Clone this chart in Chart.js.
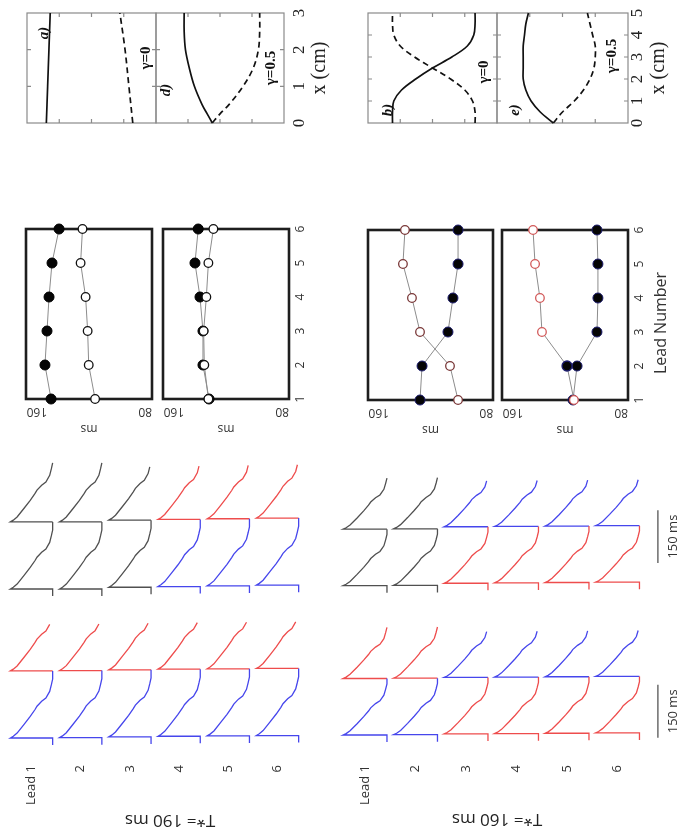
<!DOCTYPE html>
<html lang="en">
<head>
<meta charset="utf-8">
<title>APD alternans along the cable</title>
<script src="https://cdn.jsdelivr.net/npm/chart.js@4.4.1/dist/chart.umd.min.js"></script>
<style>
  html, body { margin: 0; padding: 0; background: #fff; }
  #fig { position: relative; width: 689px; height: 832px; overflow: hidden; background: #fff; }
  #fig canvas { position: absolute; }
</style>
</head>
<body>
<div id="fig"></div>
<script>
// ---------------- data ----------------
const leadNumbers = [1, 2, 3, 4, 5, 6];
const leadLabels = ['Lead 1', '2', '3', '4', '5', '6'];
const msTicks = [160, 80];
const cmTicks3 = [0, 1, 2, 3];
const cmTicks5 = [0, 1, 2, 3, 4, 5];

// APD (ms) per lead for the two alternating beats (A = filled, B = open)
const apd190g0A  = [149.5, 154, 152.5, 151, 148.8, 143.6];
const apd190g0B  = [117, 121.7, 122.5, 124, 127.7, 126.3];
const apd190g05A = [134, 138.5, 138.5, 140.7, 144.4, 142];
const apd190g05B = [134.5, 137.5, 138, 136, 134.5, 130.8];
const apd160g0A  = [129.3, 127.8, 108.5, 104.8, 101, 101];
const apd160g0B  = [101, 107, 129.3, 135.3, 142, 140.5];
const apd160g05A = [115.6, 112.6, 97.9, 97.2, 97.2, 97.9];
const apd160g05B = [114.9, 120, 138.5, 140, 143.6, 145.1];

// profiles along the cable (relative amplitude vs x in cm)
const xcmA = [0, 1, 2, 3];
const aSolid  = [0.15, 0.16, 0.17, 0.18];
const aDashed = [0.82, 0.79, 0.76, 0.72];
const xcmD = [0, 0.25, 0.5, 1, 1.5, 2, 2.5, 3];
const dSolid  = [0.44, 0.40, 0.36, 0.30, 0.26, 0.23, 0.22, 0.22];
const dDashed = [0.44, 0.50, 0.57, 0.68, 0.76, 0.80, 0.81, 0.81];
const xcmB = [0, 0.5, 1, 1.5, 2, 2.5, 3, 3.5, 4, 4.5, 5];
const bSolid  = [0.19, 0.19, 0.20, 0.26, 0.37, 0.50, 0.65, 0.77, 0.82, 0.83, 0.83];
const bDashed = [0.83, 0.83, 0.81, 0.75, 0.64, 0.50, 0.36, 0.25, 0.20, 0.19, 0.19];
const xcmE = [0, 0.5, 1, 1.5, 2, 2.5, 3, 3.5, 4, 4.5, 5];
const eSolid  = [0.43, 0.33, 0.26, 0.22, 0.20, 0.20, 0.20, 0.20, 0.21, 0.22, 0.24];
const eDashed = [0.43, 0.50, 0.59, 0.66, 0.71, 0.74, 0.75, 0.75, 0.73, 0.71, 0.69];

// action potential shape after the upstroke (time in ms, normalised voltage)
const apTime190 = [0, 5, 14, 38, 61, 80, 90, 104, 113, 132, 151, 167];
const apVolt190 = [1, 0.93, 0.84, 0.68, 0.53, 0.42, 0.37, 0.26, 0.16, 0.07, 0.03, 0];
const apTime160 = [0, 4, 12, 32, 52, 68, 77, 89, 97, 113, 130, 145];
const apVolt160 = [1, 0.93, 0.84, 0.68, 0.53, 0.42, 0.37, 0.26, 0.16, 0.07, 0.03, 0];

// pacing periods, activation delay per lead (ms), beat phase per lead (0 none, 1 / 2 alternating)
const period190 = 190, period160 = 160;
const restBefore = 20;
const delay190Up  = [0, 0, 5, 7, 9, 11];
const delay190Low = [0, 1, 3, 5, 6, 7];
const delay160Up  = [0, 1, 7, 8, 9, 10];
const delay160Low = [0, 1, 3, 4, 5, 6];
const phase190Up  = [[0, 0], [0, 0], [0, 0], [1, 2], [1, 2], [1, 2]];
const phase190Low = [[1, 2], [1, 2], [1, 2], [1, 2], [1, 2], [1, 2]];
const phase160Up  = [[0, 0], [0, 0], [2, 1], [2, 1], [2, 1], [2, 1]];
const phase160Low = [[1, 2], [1, 2], [2, 1], [2, 1], [2, 1], [2, 1]];
const windowEnd190Up = 357, windowEnd190Low = 340;
const windowEnd160Up = 309, windowEnd160Low = 307;
const scaleBarMs = 150;
const scaleBarStart160Up = 64, scaleBarStart160Low = -8;

// ---------------- drawing helpers ----------------
const SANS = '"Open Sans", "Liberation Sans", sans-serif';
const SERIF = '"Liberation Serif", "DejaVu Serif", serif';
const UP = -Math.PI / 2, FLIP = Math.PI;
const PX_PER_MS = 0.353;
const phaseColor = ['#505050', '#4646ec', '#ee4c4c'];

function label(ch, text, x, y, rot, font, color, align) {
  const ctx = ch.ctx;
  ctx.save();
  ctx.translate(x, y);
  ctx.rotate(rot);
  ctx.font = font;
  ctx.fillStyle = color || '#222';
  ctx.textAlign = align || 'center';
  ctx.textBaseline = 'middle';
  ctx.fillText(text, 0, 0);
  ctx.restore();
}

function makeChart(box, pad, datasets, scales, hooks) {
  const fig = document.getElementById('fig');
  const cv = document.createElement('canvas');
  const W = box.w + pad.l + pad.r, H = box.h + pad.t + pad.b;
  cv.width = W; cv.height = H;
  cv.style.left = (box.x - pad.l) + 'px';
  cv.style.top = (box.y - pad.t) + 'px';
  cv.style.width = W + 'px';
  cv.style.height = H + 'px';
  fig.appendChild(cv);
  const ox = box.x - pad.l, oy = box.y - pad.t;
  const decor = {
    id: 'panelDecor',
    beforeDatasetsDraw(ch) { if (hooks.before) hooks.before(ch, ox, oy); },
    afterDraw(ch) { if (hooks.after) hooks.after(ch, ox, oy); }
  };
  return new Chart(cv, {
    type: 'scatter',
    data: { datasets },
    options: {
      responsive: false, animation: false, devicePixelRatio: 1, events: [],
      layout: { padding: { left: pad.l, right: pad.r, top: pad.t, bottom: pad.b } },
      plugins: { legend: { display: false }, tooltip: { enabled: false } },
      scales
    },
    plugins: [decor]
  });
}

// ---------------- profile panels a, d, b, e ----------------
function profilePanel(box, pad, cm, solid, dashed, cmMax, after) {
  const line = (vals, dash) => ({
    data: cm.map((c, i) => ({ x: vals[i], y: c })),
    showLine: true, borderColor: '#111', borderWidth: 1.7, borderDash: dash,
    pointRadius: 0, tension: 0.35, clip: false
  });
  return makeChart(box, pad, [line(solid, []), line(dashed, [6, 4])], {
    x: { type: 'linear', display: false, min: 0, max: 1 },
    y: { type: 'linear', display: false, min: 0, max: cmMax }
  }, {
    before(ch) {
      const a = ch.chartArea, ctx = ch.ctx;
      ctx.save();
      ctx.strokeStyle = '#8a8a8a'; ctx.lineWidth = 1.2;
      ctx.strokeRect(a.left, a.top, a.right - a.left, a.bottom - a.top);
      ctx.beginPath();
      for (let c = 1; c < cmMax; c++) {
        const y = ch.scales.y.getPixelForValue(c);
        ctx.moveTo(a.left, y); ctx.lineTo(a.left + 4, y);
        ctx.moveTo(a.right, y); ctx.lineTo(a.right - 4, y);
      }
      [0.25, 0.5, 0.75].forEach(v => {
        const x = ch.scales.x.getPixelForValue(v);
        ctx.moveTo(x, a.top); ctx.lineTo(x, a.top + 4);
        ctx.moveTo(x, a.bottom); ctx.lineTo(x, a.bottom - 4);
      });
      ctx.stroke();
      ctx.restore();
    },
    after
  });
}

const boldGamma = 'bold 15px ' + SERIF;
const tagFont = 'bold italic 15px ' + SERIF;
const cmTickFont = '17px ' + SERIF;
const cmTitleFont = '20px ' + SERIF;

profilePanel({ x: 27, y: 13, w: 129, h: 110 }, { l: 4, r: 2, t: 4, b: 4 }, xcmA, aSolid, aDashed, 3,
  (ch, ox, oy) => {
    label(ch, 'a)', 44 - ox, 33 - oy, UP, tagFont, '#111');
    label(ch, 'γ=0', 146 - ox, 58 - oy, UP, boldGamma, '#111');
  });
profilePanel({ x: 156, y: 13, w: 128, h: 110 }, { l: 2, r: 50, t: 4, b: 8 }, xcmD, dSolid, dDashed, 3,
  (ch, ox, oy) => {
    const a = ch.chartArea;
    label(ch, 'd)', 166 - ox, 90 - oy, UP, tagFont, '#111');
    label(ch, 'γ=0.5', 271 - ox, 68 - oy, UP, boldGamma, '#111');
    cmTicks3.forEach(c => label(ch, String(c), a.right + 16, ch.scales.y.getPixelForValue(c), UP, cmTickFont, '#222'));
    label(ch, 'x (cm)', a.right + 36, (a.top + a.bottom) / 2, UP, cmTitleFont, '#222');
  });
profilePanel({ x: 368, y: 13, w: 129, h: 110 }, { l: 4, r: 2, t: 4, b: 4 }, xcmB, bSolid, bDashed, 5,
  (ch, ox, oy) => {
    label(ch, 'b)', 388 - ox, 110 - oy, UP, tagFont, '#111');
    label(ch, 'γ=0', 484 - ox, 72 - oy, UP, boldGamma, '#111');
  });
profilePanel({ x: 497, y: 13, w: 131, h: 110 }, { l: 2, r: 50, t: 4, b: 8 }, xcmE, eSolid, eDashed, 5,
  (ch, ox, oy) => {
    const a = ch.chartArea;
    label(ch, 'e)', 515 - ox, 110 - oy, UP, tagFont, '#111');
    label(ch, 'γ=0.5', 612 - ox, 56 - oy, UP, boldGamma, '#111');
    cmTicks5.forEach(c => label(ch, String(c), a.right + 10, ch.scales.y.getPixelForValue(c), UP, cmTickFont, '#222'));
    label(ch, 'x (cm)', a.right + 31, (a.top + a.bottom) / 2, UP, cmTitleFont, '#222');
  });

// ---------------- APD vs lead panels ----------------
function leadPanel(box, seriesA, seriesB, style, showLeadTicks, showLeadTitle) {
  const pts = s => leadNumbers.map((n, i) => ({ x: s[i], y: n }));
  const pad = { l: 14, r: showLeadTicks ? 50 : 8, t: 8, b: 40 };
  return makeChart(box, pad, [
    {
      data: pts(seriesB), showLine: true, borderColor: '#8c8c8c', borderWidth: 1,
      pointRadius: 4.3, pointBackgroundColor: style.openFill, pointBorderColor: style.openEdge,
      pointBorderWidth: 1.3, clip: false
    },
    {
      data: pts(seriesA), showLine: true, borderColor: '#8c8c8c', borderWidth: 1,
      pointRadius: 5, pointBackgroundColor: '#050505', pointBorderColor: style.filledEdge,
      pointBorderWidth: 1, clip: false
    }
  ], {
    x: { type: 'linear', display: false, min: 75, max: 168, reverse: true },
    y: { type: 'linear', display: false, min: 1, max: 6 }
  }, {
    before(ch) {
      const a = ch.chartArea, ctx = ch.ctx;
      ctx.save();
      ctx.strokeStyle = '#1e1e1e'; ctx.lineWidth = 2.6;
      ctx.strokeRect(a.left, a.top, a.right - a.left, a.bottom - a.top);
      ctx.restore();
    },
    after(ch) {
      const a = ch.chartArea, sx = ch.scales.x, sy = ch.scales.y;
      msTicks.forEach(v => label(ch, String(v), sx.getPixelForValue(v), a.bottom + 12, FLIP, '12px ' + SANS, '#333'));
      label(ch, 'ms', (a.left + a.right) / 2, a.bottom + 29, FLIP, '12px ' + SANS, '#333');
      if (showLeadTicks) {
        leadNumbers.forEach(n => label(ch, String(n), a.right + 12, sy.getPixelForValue(n), UP, '12px ' + SANS, '#333'));
      }
      if (showLeadTitle) {
        label(ch, 'Lead Number', a.right + 33, a.top + 93, UP, '16px ' + SANS, '#333');
      }
    }
  });
}

const style190 = { openFill: '#ffffff', openEdge: '#111111', filledEdge: '#000000' };
const style160a = { openFill: '#ffffff', openEdge: '#7a3838', filledEdge: '#1c1c6e' };
const style160b = { openFill: '#ffffff', openEdge: '#d25a5a', filledEdge: '#1c1c6e' };

leadPanel({ x: 26, y: 229, w: 126, h: 170 }, apd190g0A, apd190g0B, style190, false, false);
leadPanel({ x: 163, y: 229, w: 126, h: 170 }, apd190g05A, apd190g05B, style190, true, false);
leadPanel({ x: 368, y: 230, w: 125, h: 170 }, apd160g0A, apd160g0B, style160a, false, false);
const lp = leadPanel({ x: 502, y: 230, w: 126, h: 170 }, apd160g05A, apd160g05B, style160b, true, true);
// the two beats coincide in phase at lead 2: both markers are drawn solid there
lp.data.datasets[0].pointBackgroundColor = leadNumbers.map(n => n === 2 ? '#050505' : '#ffffff');
lp.data.datasets[0].pointBorderColor = leadNumbers.map(n => n === 2 ? '#1c1c6e' : '#d25a5a');
lp.data.datasets[0].pointRadius = leadNumbers.map(n => n === 2 ? 5 : 4.3);
lp.update();

// ---------------- voltage traces ----------------
function beatPoints(k, half, tUp, tNext, tStop, times, volts, withStub) {
  const xs = v => k + half - 2 * half * v;
  const pts = [];
  if (withStub) pts.push({ x: xs(0), y: tUp - restBefore });
  pts.push({ x: xs(0), y: tUp });
  for (let i = 0; i < times.length; i++) {
    const t = tUp + times[i];
    if (t > tStop) break;
    pts.push({ x: xs(volts[i]), y: t });
  }
  if (tNext !== null) pts.push({ x: xs(0), y: tNext });
  return pts;
}

function traceDatasets(period, delays, phases, tEnd, times, volts, half) {
  const sets = [];
  leadNumbers.forEach((k, i) => {
    const t1 = delays[i], t2 = period + delays[i];
    const beats = [
      beatPoints(k, half, t1, t2, t2, times, volts, true),
      beatPoints(k, half, t2, null, tEnd, times, volts, false)
    ];
    beats.forEach((pts, b) => sets.push({
      data: pts, showLine: true, borderColor: phaseColor[phases[i][b]], borderWidth: 1.3,
      pointRadius: 0, tension: 0, clip: false
    }));
  });
  return sets;
}

function slotRange(box, firstCenter, spacing) {
  const min = 1 - (firstCenter - box.x) / spacing;
  return { min, max: min + box.w / spacing };
}
function timeRange(box, zeroY) {
  return { min: -(box.y + box.h - zeroY) / PX_PER_MS, max: (zeroY - box.y) / PX_PER_MS };
}

function traceGroup(box, pad, slot, zeroY, sets, after) {
  const xr = slotRange(box, slot.first, slot.spacing);
  const yr = timeRange(box, zeroY);
  return makeChart(box, pad, sets, {
    x: { type: 'linear', display: false, min: xr.min, max: xr.max },
    y: { type: 'linear', display: false, min: yr.min, max: yr.max }
  }, { after });
}

const slot190 = { first: 31.5, spacing: 49.2 };
const slot160 = { first: 365, spacing: 50.5 };
const half190 = 0.43, half160 = 0.435;
const scaleBarSlot = 6.8;

function scaleBar(start) {
  return {
    data: [{ x: scaleBarSlot, y: start }, { x: scaleBarSlot, y: start + scaleBarMs }],
    showLine: true, borderColor: '#555', borderWidth: 1.3, pointRadius: 0, clip: false
  };
}
function scaleBarLabel(ch, start) {
  const x = ch.scales.x.getPixelForValue(scaleBarSlot) + 15;
  const y = ch.scales.y.getPixelForValue(start + scaleBarMs / 2);
  label(ch, scaleBarMs + ' ms', x, y, UP, '13px ' + SANS, '#333');
}
function leadRow(ch, oy) {
  leadNumbers.forEach((k, i) => {
    label(ch, leadLabels[i], ch.scales.x.getPixelForValue(k), 765 - oy, UP, '13px ' + SANS, '#333', 'right');
  });
}

traceGroup({ x: 0, y: 450, w: 340, h: 155 }, { l: 0, r: 0, t: 0, b: 0 }, slot190, 589,
  traceDatasets(period190, delay190Up, phase190Up, windowEnd190Up, apTime190, apVolt190, half190));

traceGroup({ x: 0, y: 605, w: 340, h: 150 }, { l: 0, r: 0, t: 0, b: 77 }, slot190, 738,
  traceDatasets(period190, delay190Low, phase190Low, windowEnd190Low, apTime190, apVolt190, half190),
  (ch, ox, oy) => {
    leadRow(ch, oy);
    label(ch, 'T*= 190 ms', 170 - ox, 820 - oy, FLIP, '17px ' + SANS, '#222');
  });

traceGroup({ x: 340, y: 460, w: 349, h: 145 }, { l: 0, r: 0, t: 0, b: 0 }, slot160, 585.7,
  traceDatasets(period160, delay160Up, phase160Up, windowEnd160Up, apTime160, apVolt160, half160)
    .concat([scaleBar(scaleBarStart160Up)]),
  (ch) => scaleBarLabel(ch, scaleBarStart160Up));

traceGroup({ x: 340, y: 610, w: 349, h: 145 }, { l: 0, r: 0, t: 0, b: 77 }, slot160, 735,
  traceDatasets(period160, delay160Low, phase160Low, windowEnd160Low, apTime160, apVolt160, half160)
    .concat([scaleBar(scaleBarStart160Low)]),
  (ch, ox, oy) => {
    leadRow(ch, oy);
    scaleBarLabel(ch, scaleBarStart160Low);
    label(ch, 'T*= 160 ms', 497 - ox, 819 - oy, FLIP, '17px ' + SANS, '#222');
  });
</script>
</body>
</html>
